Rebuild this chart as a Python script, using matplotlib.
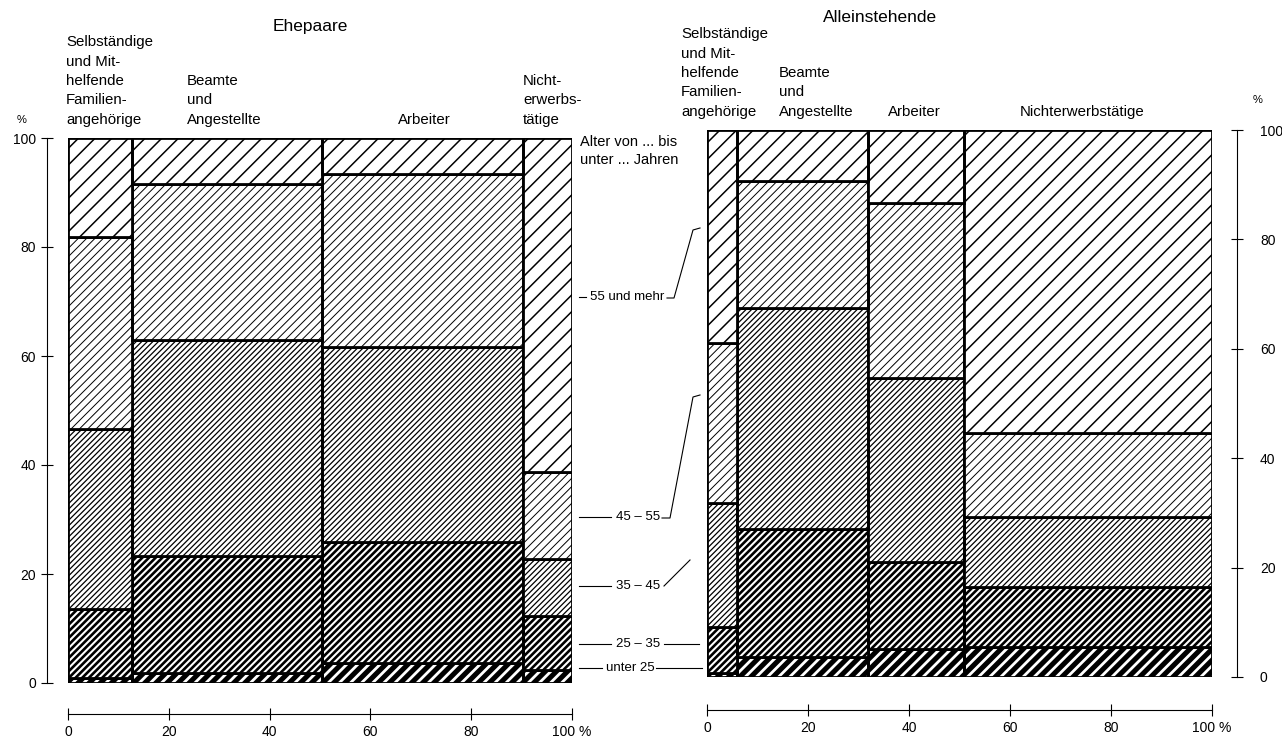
import matplotlib as mpl
import matplotlib.pyplot as plt
import numpy as np

W, H = 1282, 740
plt.rcParams['font.family'] = ['Liberation Sans Narrow', 'Liberation Sans', 'DejaVu Sans']

# age classes, bottom to top
ages = ['unter 25', '25 - 35', '35 - 45', '45 - 55', '55 und mehr']

# Ehepaare
ehe_groups = ['Selbständige\nund Mit-\nhelfende\nFamilien-\nangehörige',
              'Beamte\nund\nAngestellte', 'Arbeiter', 'Nicht-\nerwerbs-\ntätige']
ehe_width = [12.7, 37.7, 39.9, 9.7]
ehe_u25 = [1.0, 1.8, 3.7, 2.4]
ehe_25_35 = [12.6, 21.5, 22.2, 9.9]
ehe_35_45 = [33.0, 39.6, 35.8, 10.5]
ehe_45_55 = [35.2, 28.7, 31.7, 15.9]
ehe_55 = [18.2, 8.4, 6.6, 61.3]

# Alleinstehende
all_groups = ['Selbständige\nund Mit-\nhelfende\nFamilien-\nangehörige',
              'Beamte\nund\nAngestellte', 'Arbeiter', 'Nichterwerbstätige']
all_width = [5.9, 26.0, 19.0, 49.1]
all_u25 = [0.7, 3.7, 5.1, 5.5]
all_25_35 = [8.4, 23.4, 15.9, 11.0]
all_35_45 = [22.7, 40.4, 33.7, 12.8]
all_45_55 = [29.3, 23.2, 32.0, 15.3]
all_55 = [38.9, 9.3, 13.3, 55.4]

ticks = [0, 20, 40, 60, 80, 100]
xlabels = ['0', '20', '40', '60', '80', '100 %']

# hatch style per age class: (hatch, hatch linewidth, face, hatch colour)
styles = [('///', 2.0, 'black', 'white'),
          ('/////', 1.9, 'white', 'black'),
          ('//////', 0.9, 'white', 'black'),
          ('////', 0.7, 'white', 'black'),
          ('//', 1.1, 'white', 'black')]


def mekko(ax, widths, series):
    left = np.concatenate([[0], np.cumsum(widths)[:-1]])
    bottom = np.zeros(len(widths))
    for vals, (hatch, hlw, face, hcol) in zip(series, styles):
        vals = np.array(vals)
        mpl.rcParams['hatch.linewidth'] = hlw
        bars = ax.bar(left, vals, width=widths, bottom=bottom, align='edge',
                      color=face, edgecolor=hcol, hatch=hatch, linewidth=0)
        for p in bars:
            if hasattr(p, 'set_hatch_linewidth'):
                p.set_hatch_linewidth(hlw)
        ax.bar(left, vals, width=widths, bottom=bottom, align='edge',
               fill=False, edgecolor='black', linewidth=2.0)
        bottom = bottom + vals
    ax.set_xlim(0, 100)
    ax.set_ylim(0, 100)
    ax.set_xticks(ticks)
    ax.set_xticklabels(xlabels, fontsize=10)
    ax.set_yticks(ticks)
    ax.set_yticklabels([str(t) for t in ticks], fontsize=10)
    ax.tick_params(direction='inout', length=9, width=0.8)
    ax.set_facecolor('none')


fig = plt.figure(figsize=(W / 100, H / 100), dpi=100)

ax1 = fig.add_axes([68 / W, 1 - 683 / H, 504 / W, 545 / H])
mekko(ax1, ehe_width, [ehe_u25, ehe_25_35, ehe_35_45, ehe_45_55, ehe_55])
ax1.spines['top'].set_visible(False)
ax1.spines['right'].set_visible(False)
ax1.spines['left'].set_position(('outward', 15))
ax1.spines['bottom'].set_position(('outward', 22))
for s in ['left', 'bottom']:
    ax1.spines[s].set_linewidth(0.8)

ax2 = fig.add_axes([707 / W, 1 - 677 / H, 505 / W, 547 / H])
mekko(ax2, all_width, [all_u25, all_25_35, all_35_45, all_45_55, all_55])
ax2.spines['top'].set_visible(False)
ax2.spines['left'].set_visible(False)
ax2.spines['right'].set_position(('outward', 18))
ax2.spines['bottom'].set_position(('outward', 24))
for s in ['right', 'bottom']:
    ax2.spines[s].set_linewidth(0.8)
ax2.yaxis.tick_right()
ax2.tick_params(axis='y', pad=12)

# overlay in pixel units for headings, labels and leader lines
ov = fig.add_axes([0, 0, 1, 1])
ov.set_xlim(0, W)
ov.set_ylim(H, 0)
ov.axis('off')

fs = 10.8
ov.text(310, 27, 'Ehepaare', fontsize=12.5, ha='center', va='center')
ov.text(880, 18, 'Alleinstehende', fontsize=12.5, ha='center', va='center')

for name, x in zip(ehe_groups, [66, 187, 398, 523]):
    ov.text(x, 127, name, fontsize=fs, ha='left', va='bottom', linespacing=1.5)
for name, x in zip(all_groups, [681, 779, 888, 1020]):
    ov.text(x, 119, name, fontsize=fs, ha='left', va='bottom', linespacing=1.5)

ov.text(22, 120, '%', fontsize=8, ha='center', va='center')
ov.text(1258, 100, '%', fontsize=8, ha='center', va='center')

ov.text(580, 151, 'Alter von ... bis\nunter ... Jahren', fontsize=10.5,
        ha='left', va='center', linespacing=1.3)

lw = 0.8
fl = 9.5
# 55 und mehr
ov.text(590, 297, '55 und mehr', fontsize=fl, ha='left', va='center')
ov.plot([579, 586], [297, 297], color='black', lw=lw)
ov.plot([667, 674, 693, 700], [298, 298, 230, 228], color='black', lw=lw)
# 45 - 55
ov.text(616, 517, '45 – 55', fontsize=fl, ha='left', va='center')
ov.plot([579, 611], [517, 517], color='black', lw=lw)
ov.plot([662, 670, 693, 700], [518, 518, 397, 395], color='black', lw=lw)
# 35 - 45
ov.text(616, 586, '35 – 45', fontsize=fl, ha='left', va='center')
ov.plot([579, 611], [586, 586], color='black', lw=lw)
ov.plot([664, 690], [586, 560], color='black', lw=lw)
# 25 - 35
ov.text(616, 644, '25 – 35', fontsize=fl, ha='left', va='center')
ov.plot([579, 611], [644, 644], color='black', lw=lw)
ov.plot([664, 699], [644, 644], color='black', lw=lw)
# unter 25
ov.text(606, 668, 'unter 25', fontsize=fl, ha='left', va='center')
ov.plot([579, 602], [668, 668], color='black', lw=lw)
ov.plot([656, 702], [668, 668], color='black', lw=lw)

fig.savefig('out.png', dpi=100)
